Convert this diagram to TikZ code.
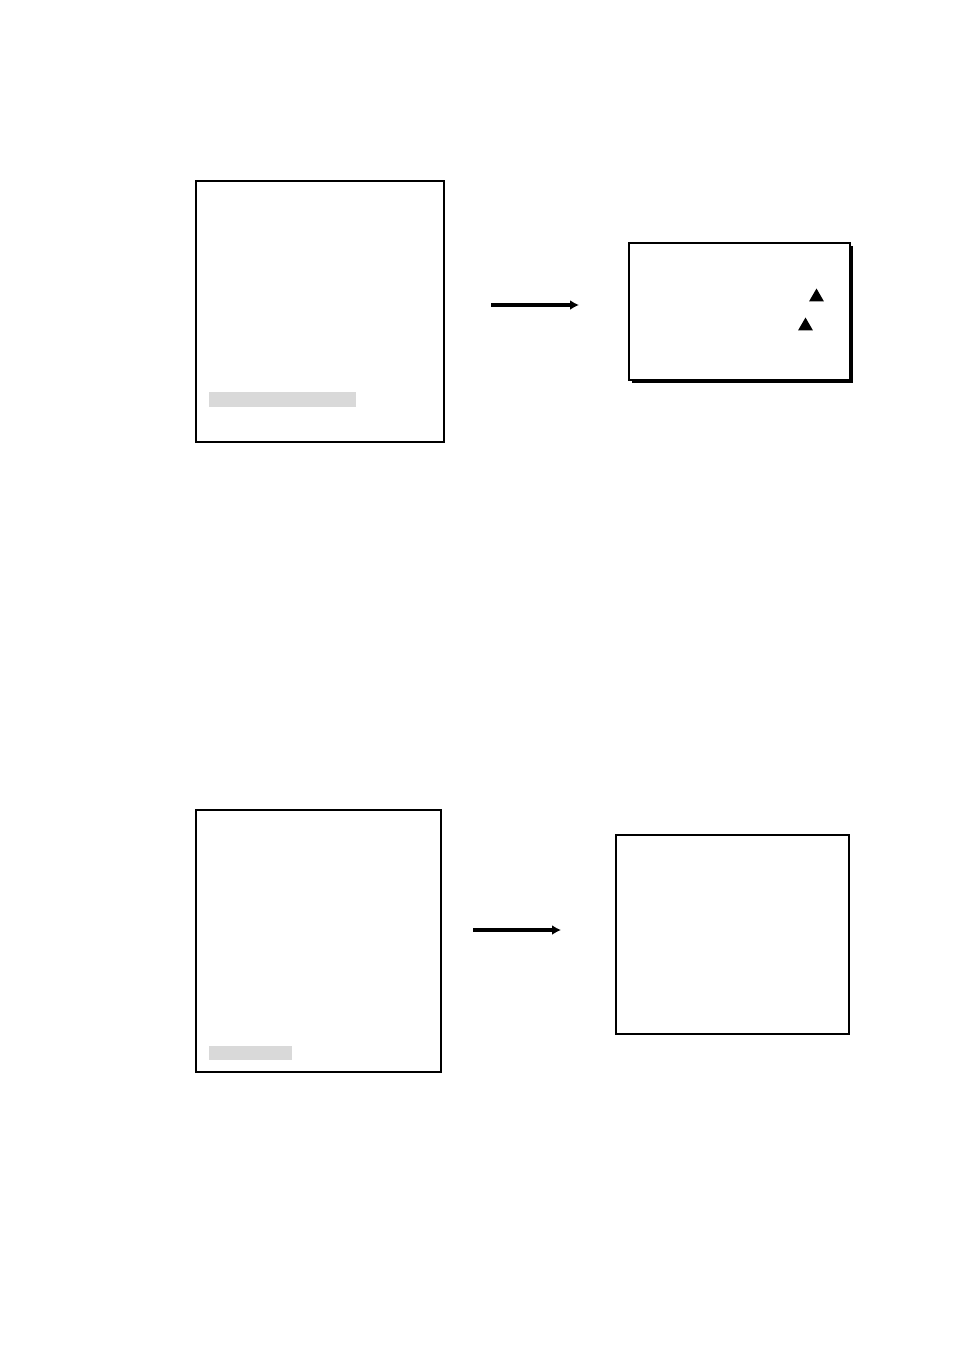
\documentclass[tikz,border=0pt]{standalone}
\usetikzlibrary{shapes.geometric,arrows.meta,shadows}
\tikzset{
  panel/.style={draw=black, line width=2.4pt, fill=white},
  shadowpanel/.style={panel, drop shadow={shadow xshift=3pt, shadow yshift=-3pt, fill=black, opacity=1}},
  graybar/.style={fill=black!15, draw=none},
  flow/.style={line width=3.4pt, -{Latex[length=9pt,width=10pt]}},
  tri/.style={regular polygon, regular polygon sides=3, fill=black, inner sep=0pt, minimum size=17pt}
}
\begin{document}
\begin{tikzpicture}[x=1pt,y=-1pt]
\useasboundingbox (0,0) rectangle (954,1350);
% top row
\draw[panel] (196,181) rectangle (444,442);
\fill[graybar] (209,392) rectangle (356,407);
\node[shadowpanel, minimum width=221pt, minimum height=137pt, anchor=north west] (b2) at (628,242) {};
\node[tri] (t1) at (816.5,297) {};
\node[tri] (t2) at (805.5,326) {};
\coordinate (a1s) at (491,305);
\coordinate (a1e) at (579,305);
\draw[flow] (a1s) -- (a1e);
% bottom row
\draw[panel] (196,810) rectangle (441,1072);
\fill[graybar] (209,1046) rectangle (292,1060);
\draw[panel] (616,835) rectangle (849,1034);
\coordinate (a2s) at (473,930);
\coordinate (a2e) at (561,930);
\draw[flow] (a2s) -- (a2e);
\end{tikzpicture}
\end{document}
